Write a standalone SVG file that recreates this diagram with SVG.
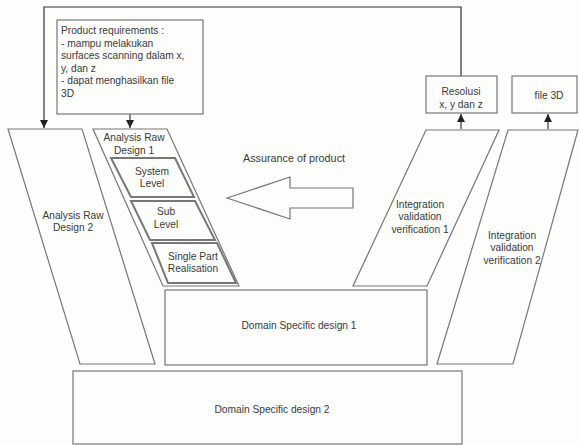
<svg xmlns="http://www.w3.org/2000/svg" width="579" height="445" viewBox="0 0 579 445">
<defs>
<style>
.s{fill:none;stroke:#333;stroke-width:1.2}
.b{fill:#fdfdfc;stroke:#777;stroke-width:1.2}
.d{fill:#fdfdfc;stroke:#777;stroke-width:2}
text{font-family:"Liberation Sans",Arial,sans-serif;font-size:10.2px;fill:#3a3a3a}
.c{text-anchor:middle}
</style>
<marker id="ah" viewBox="0 0 10 10" refX="10" refY="5" markerWidth="8" markerHeight="8" markerUnits="userSpaceOnUse" orient="auto">
<path d="M0,0 L10,5 L0,10 z" fill="#222"/>
</marker>
</defs>
<rect width="579" height="445" fill="#fdfdfb"/>
<g id="connectors">
<path class="s" d="M461,76 V7 H44 V128" marker-end="url(#ah)"/>
<path class="s" d="M130,114 V128" marker-end="url(#ah)"/>
<path class="s" d="M461,129 V114" marker-end="url(#ah)"/>
<path class="s" d="M548,129 V114" marker-end="url(#ah)"/>
</g>
<g id="product-req">
<rect class="b" x="57" y="20" width="146" height="94"/>
<text x="61" y="34">Product requirements :</text>
<text x="61" y="47">- mampu melakukan</text>
<text x="61" y="59">surfaces scanning dalam x,</text>
<text x="61" y="72">y, dan z</text>
<text x="61" y="84">- dapat menghasilkan file</text>
<text x="61" y="97">3D</text>
</g>
<g id="ard2">
<polygon class="b" points="8,129 82,129 155,364 80,364"/>
<text class="c" x="73" y="219">Analysis Raw</text>
<text class="c" x="73" y="231">Design 2</text>
</g>
<g id="ard1">
<polygon class="b" points="93,129 167,129 239,286 163,286"/>
<text class="c" x="134" y="141">Analysis Raw</text>
<text class="c" x="134" y="154">Design 1</text>
</g>
<g id="system-level">
<polygon class="d" points="111,158 175,158 194,197 131,197"/>
<text class="c" x="152" y="175">System</text>
<text class="c" x="152" y="187">Level</text>
</g>
<g id="sub-level">
<polygon class="d" points="131,201 195,201 215,240 150,240"/>
<text class="c" x="166" y="215">Sub</text>
<text class="c" x="166" y="228">Level</text>
</g>
<g id="single-part">
<polygon class="d" points="152,243 217,243 236,283 168,283"/>
<text class="c" x="193" y="260">Single Part</text>
<text class="c" x="193" y="272">Realisation</text>
</g>
<g id="assurance">
<polygon class="b" points="227,198 290,177 290,188 353,188 353,208 290,208 290,219"/>
<text x="243" y="162" style="font-size:10.8px">Assurance of product</text>
</g>
<g id="ivv1">
<polygon class="b" points="426,130 499,130 427,286 353,286"/>
<text class="c" x="420" y="208">Integration</text>
<text class="c" x="420" y="220">validation</text>
<text class="c" x="420" y="233">verification 1</text>
</g>
<g id="ivv2">
<polygon class="b" points="508,130 578,130 513,364 437,364"/>
<text class="c" x="512" y="239">Integration</text>
<text class="c" x="512" y="251">validation</text>
<text class="c" x="512" y="264">verification 2</text>
</g>
<g id="resolusi">
<rect class="b" x="426" y="76" width="71" height="37"/>
<text class="c" x="461" y="95">Resolusi</text>
<text class="c" x="461" y="108">x, y dan z</text>
</g>
<g id="file3d">
<rect class="b" x="512" y="76" width="65" height="37"/>
<text class="c" x="549" y="99">file 3D</text>
</g>
<g id="dsd1">
<rect class="b" x="165" y="290" width="262" height="75"/>
<text class="c" x="299" y="329">Domain Specific design 1</text>
</g>
<g id="dsd2">
<rect class="b" x="73" y="371" width="389" height="73"/>
<text class="c" x="272" y="413">Domain Specific design 2</text>
</g>
</svg>
